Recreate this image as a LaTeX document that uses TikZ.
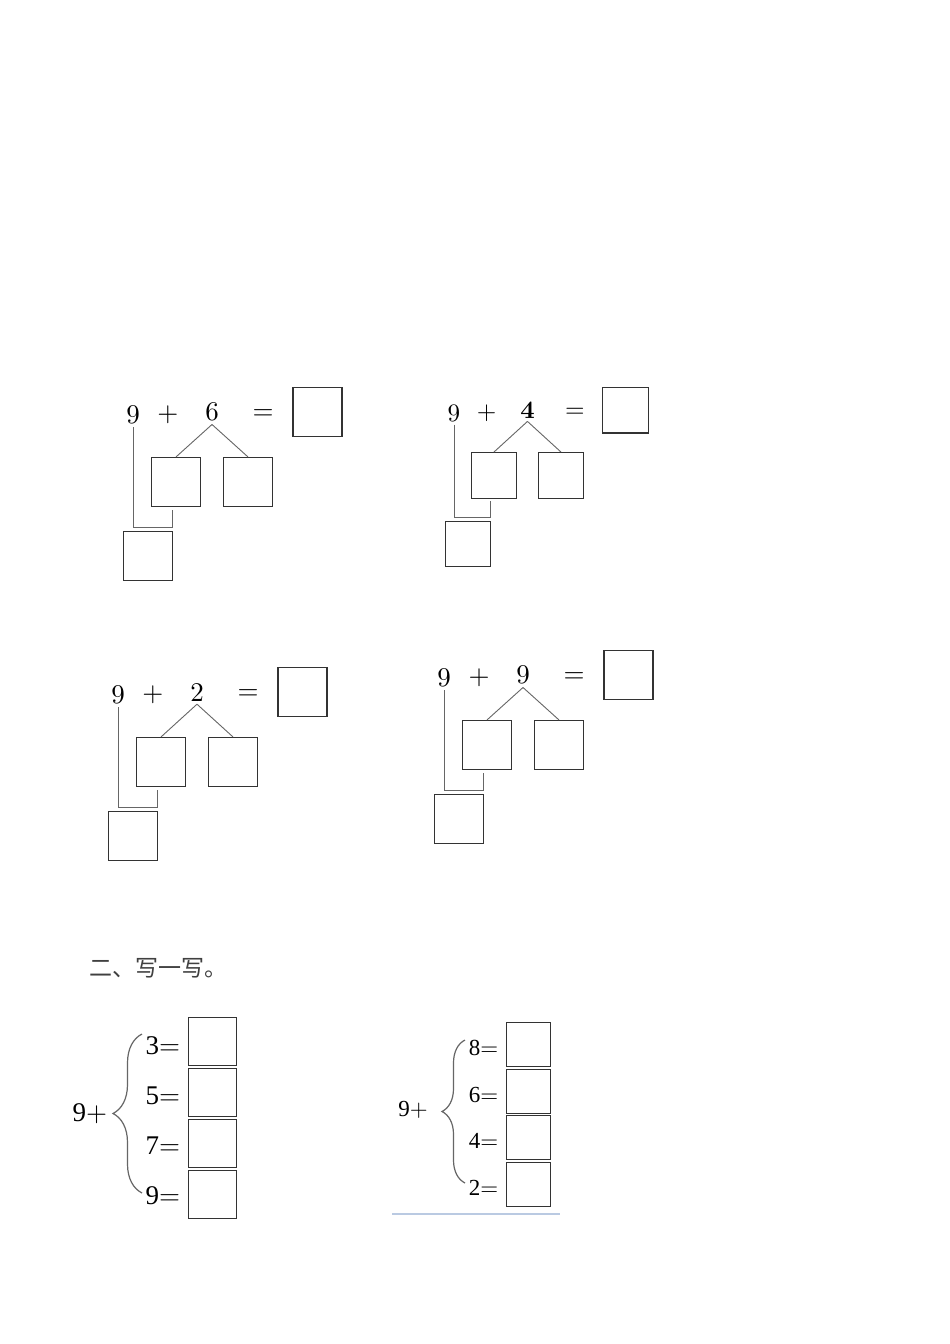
\documentclass[tikz,border=0pt]{standalone}
\usepackage{fontspec}
\newfontfamily\cjkfont{Noto Sans CJK SC}
\newfontfamily\timesfont{Liberation Serif}
\newfontfamily\lmten{lmroman10-regular}[Extension=.otf, BoldFont=lmroman10-bold]
\usetikzlibrary{decorations.pathreplacing}

\definecolor{rulecol}{RGB}{186,202,226}
\tikzset{
  box/.style={draw=black!80, line width=1.1pt, minimum size=#1, inner sep=0pt},
  box/.default=49pt,
  tree/.style={black!60, line width=0.9pt},
  num/.style={inner xsep=1pt, inner ysep=3pt, font=\lmten\fontsize{27}{30}\selectfont},
  curly/.style={decorate, decoration={brace, amplitude=#1}, black!60, line width=1.2pt},
  pics/addtree/.style={code={
    \node[num] (-a) at (0,0) {9};
    \node[num] (-p) at (35,0) {+};
    \node[num] (-b) at (79,-3) {#1};
    \node[num] (-e) at (130,0) {=};
    \node[box] (-s) at (184.5,-3) {};
    \node[box] (-l) at (43,67) {};
    \node[box] (-r) at (115,67) {};
    \node[box] (-t) at (15,141) {};
    \coordinate (-c) at (39,112);
    \coordinate (-k) at (39,95);
    \draw[tree] (-b.south) -- (-l.north);
    \draw[tree] (-b.south) -- (-r.north);
    \draw[tree] (-a.south) |- (-c) -- (-k);
  }}
}

\begin{document}
\begin{tikzpicture}[x=1pt, y=-1pt]
\fill[white] (0,0) rectangle (950,1344);
\useasboundingbox (0,0) rectangle (950,1344);
% the four number trees
\pic (t1) at (133,415) {addtree=6};
\pic[scale=0.93, transform shape] (t2) at (454,413) {addtree={\bfseries 4}};
\pic (t3) at (118,695) {addtree=2};
\pic (t4) at (444,678) {addtree=9};
% part two
\node[anchor=west, text=black!75, font=\cjkfont\fontsize{23}{26}\selectfont] (title) at (86,968) {二、写一写。};
% left group
\node[font=\lmten\fontsize{27}{30}\selectfont] (nineL) at (90,1114) {{\timesfont 9}+};
\draw[curly=29pt] (142,1193) -- (142,1034);
\foreach \n [count=\i] in {3,5,7,9} {
  \node[font=\lmten\fontsize{27}{30}\selectfont] (eqL\i) at (163,{1046+50*(\i-1)}) {{\timesfont \n}=};
  \node[box=48pt] (ansL\i) at (212.5,{1041.5+51*(\i-1)}) {};
}
% right group
\node[font=\lmten\fontsize{23}{26}\selectfont] (nineR) at (413,1110) {{\timesfont 9}+};
\draw[curly=23pt] (465,1183) -- (465,1040);
\foreach \n [count=\i] in {8,6,4,2} {
  \node[font=\lmten\fontsize{23}{26}\selectfont] (eqR\i) at (483.5,{1048+46.7*(\i-1)}) {{\timesfont \n}=};
  \node[box=44pt] (ansR\i) at (528.5,{1044.5+46.7*(\i-1)}) {};
}
\draw[rulecol, line width=1.5pt] (392,1214) -- (560,1214);
\end{tikzpicture}
\end{document}
